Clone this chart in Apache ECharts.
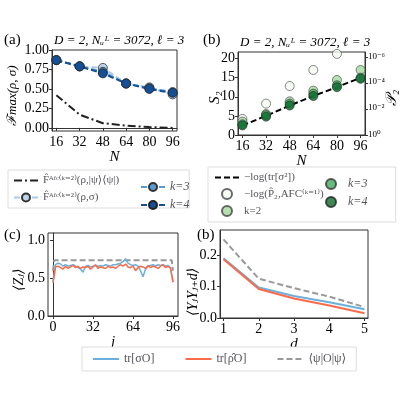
<!DOCTYPE html>
<html><head><meta charset="utf-8">
<script src="https://cdn.jsdelivr.net/npm/echarts@6/dist/echarts.min.js"></script>
<style>html,body{margin:0;background:#fff}#main{width:400px;height:400px}</style>
</head><body><div id="main"></div>
<script>
// panel (a)
var sizesN = [16, 32, 48, 64, 80, 96];
var fPure = [0.42, 0.17, 0.06, 0.03, 0.01, 0.00];
var fK2 = [0.87, 0.79, 0.77, 0.57, 0.52, 0.43];
var fK3 = [0.87, 0.79, 0.72, 0.57, 0.51, 0.46];
var fK4 = [0.87, 0.79, 0.70, 0.57, 0.50, 0.45];
var fTicks = [0, 0.25, 0.5, 0.75, 1];
// panel (b)
var s2Exact = [2.5, 5.0, 7.7, 10.2, 12.5, 15.0];
var s2K1 = [4.2, 8.2, 12.8, 17.0, 21.2];
var s2K2 = [3.5, 5.5, 8.8, 11.6, 14.4, 17.0];
var s2K3 = [2.8, 5.2, 8.2, 10.8, 13.0, 15.0];
var s2K4 = [2.5, 4.8, 7.7, 10.2, 12.5, 14.7];
var s2Ticks = [0, 5, 10, 15, 20];
var pTicks = [0, 2, 4, 6];
// panel (c)
var sites = [0,2,4,6,8,10,12,14,16,18,20,22,24,26,28,30,32,34,36,38,40,42,44,46,48,50,52,54,56,58,60,62,64,66,68,70,72,74,76,78,80,82,84,86,88,90,92,94,96];
var zSigma = [0.45,0.68,0.70,0.69,0.66,0.68,0.66,0.67,0.68,0.66,0.64,0.62,0.58,0.66,0.67,0.65,0.66,0.67,0.66,0.67,0.66,0.68,0.67,0.66,0.68,0.68,0.69,0.70,0.72,0.76,0.70,0.68,0.67,0.68,0.66,0.60,0.52,0.62,0.66,0.67,0.68,0.66,0.68,0.67,0.68,0.66,0.67,0.64,0.45];
var zRho = [0.44,0.65,0.66,0.64,0.62,0.66,0.63,0.65,0.67,0.64,0.66,0.63,0.65,0.64,0.66,0.62,0.65,0.68,0.63,0.65,0.64,0.63,0.66,0.64,0.65,0.63,0.66,0.68,0.66,0.69,0.65,0.64,0.66,0.60,0.64,0.66,0.65,0.63,0.67,0.64,0.66,0.65,0.63,0.66,0.68,0.64,0.66,0.63,0.45];
var zPsiX = [0, 1, 95, 96];
var zPsi = [0.6, 0.74, 0.74, 0.6];
var jTicks = [0, 32, 64, 96];
var zTicks = [0, 0.5, 1.0];
// panel (d)
var dists = [1, 2, 3, 4, 5];
var yySigma = [0.19, 0.097, 0.07, 0.05, 0.028];
var yyRho = [0.187, 0.092, 0.062, 0.04, 0.015];
var yyPsi = [0.25, 0.125, 0.095, 0.068, 0.035];
var yyTicks = [0, 0.1, 0.2];

function pairs(xs, ys) { return ys.map(function (v, i) { return [xs[i], v]; }); }
function lineOnly(n) { return {name: n, itemStyle: {opacity: 0}}; }

var F = 'Liberation Serif, DejaVu Serif, serif';
var lbl = {color: '#000', fontFamily: F, fontSize: 14};
var line = {show: true, lineStyle: {color: '#333'}};
function xAx(idx, min, max, ticks, name) {
  return {type: 'value', gridIndex: idx, min: min, max: max, name: name,
    nameLocation: 'middle', nameGap: 18, nameTextStyle: {fontFamily: F, fontStyle: 'italic', fontSize: 15, color: '#000'},
    axisLine: line, axisTick: {length: 3, customValues: ticks}, axisLabel: Object.assign({margin: 4, customValues: ticks}, lbl), splitLine: {show: false}};
}
function yAx(idx, min, max, ticks, fmt) {
  return {type: 'value', gridIndex: idx, min: min, max: max,
    axisLine: line, axisTick: {show: true, length: 3, customValues: ticks}, axisLabel: Object.assign({margin: 3, customValues: ticks, formatter: fmt}, lbl), splitLine: {show: false}};
}
var C2 = '#a9c9e6', C3 = '#5b9bd5', C4 = '#154f96';
var G2 = '#a1d99b', G3 = '#41ab5d', G4 = '#0b6b2d';
var BL = '#6bb0dc', RD = '#fb6a4a', GR = '#999';
var box = {show: true, borderColor: '#333', borderWidth: 1};

var chart = echarts.init(document.getElementById('main'));
chart.setOption({
  animation: false,
  grid: [
    Object.assign({left: 52, top: 50, width: 125, height: 81}, box),
    Object.assign({left: 238, top: 52, width: 127, height: 83}, box),
    Object.assign({left: 48, top: 233, width: 130, height: 83}, box),
    Object.assign({left: 220, top: 230, width: 148, height: 88}, box)
  ],
  xAxis: [
    xAx(0, 13, 99, sizesN, 'N'), xAx(1, 13, 99, sizesN, 'N'),
    xAx(2, -4, 100, jTicks, 'j'),
    xAx(3, 0.9, 5.1, dists, 'd')
  ],
  yAxis: [
    yAx(0, -0.04, 1.0, fTicks, function (v) { return v.toFixed(2); }),
    yAx(1, 0, 21.7, s2Ticks),
    Object.assign(yAx(1, 0, 6.4, pTicks), {position: 'right', axisLabel: {show: false}, axisTick: {show: true, inside: false, length: 3, customValues: pTicks}}),
    yAx(2, 0, 1.1, zTicks, function (v) { return v.toFixed(1); }),
    yAx(3, 0, 0.28, yyTicks, function (v) { return v.toFixed(1); })
  ],
  legend: [
    {left: 8, top: 170, orient: 'vertical', itemGap: 6, itemWidth: 24, itemHeight: 10, backgroundColor: '#fff', borderColor: '#ddd', borderWidth: 1, padding: [5, 70, 5, 5],
      textStyle: {fontFamily: F, fontSize: 11}, data: [lineOnly('F̂ᴬᶠᶜ⁽ᵏ⁼²⁾(ρ,|ψ⟩⟨ψ|)'), 'F̂ᴬᶠᶜ⁽ᵏ⁼²⁾(ρ,σ)']},
    {left: 135, top: 176, z: 5, orient: 'vertical', itemGap: 6, itemWidth: 24, itemHeight: 10, textStyle: {fontFamily: F, fontSize: 12, fontStyle: 'italic'}, data: ['k=3 ', 'k=4 ']},
    {left: 208, top: 167, orient: 'vertical', itemGap: 5, itemWidth: 24, itemHeight: 10, backgroundColor: '#fff', borderColor: '#ddd', borderWidth: 1, padding: [5, 72, 5, 6],
      textStyle: {fontFamily: F, fontSize: 11}, data: [lineOnly('−log(tr[σ²])'), '−log(P̂₂,AFC⁽ᵏ⁼¹⁾)', 'k=2']},
    {left: 320, top: 173, z: 5, orient: 'vertical', itemGap: 6, itemWidth: 24, itemHeight: 10, textStyle: {fontFamily: F, fontSize: 12, fontStyle: 'italic'}, data: ['k=3', 'k=4']},
    {left: 82, top: 347, orient: 'horizontal', itemGap: 30, itemWidth: 26, itemHeight: 8, backgroundColor: '#fff', borderColor: '#ddd', borderWidth: 1, padding: [6, 10],
      textStyle: {fontFamily: F, fontSize: 12}, data: [lineOnly('tr[σO]'), lineOnly('tr[ρ̂O]'), lineOnly('⟨ψ|O|ψ⟩')]}
  ],
  graphic: [
    {type: 'text', left: 4, top: 33, style: {text: '(a)', font: '15px ' + F}},
    {type: 'text', left: 54, top: 34, style: {text: 'D = 2, Nᵤᴸ = 3072, ℓ = 3', font: 'italic 13px ' + F}},
    {type: 'text', left: 203, top: 33, style: {text: '(b)', font: '15px ' + F}},
    {type: 'text', left: 240, top: 36, style: {text: 'D = 2, Nᵤᴸ = 3072, ℓ = 3', font: 'italic 13px ' + F}},
    {type: 'text', left: 4, top: 228, style: {text: '(c)', font: '15px ' + F}},
    {type: 'text', left: 197, top: 228, style: {text: '(b)', font: '15px ' + F}},
    {type: 'text', x: 6, y: 126, rotation: Math.PI / 2, style: {text: 'ℱmax(ρ, σ)', font: 'italic 13px ' + F}},
    {type: 'text', x: 208, y: 104, rotation: Math.PI / 2, style: {text: 'S₂', font: 'italic 15px ' + F}},
    {type: 'text', x: 368, y: 52, style: {text: '10⁻⁶', font: '9px ' + F}},
    {type: 'text', x: 368, y: 77, style: {text: '10⁻⁴', font: '9px ' + F}},
    {type: 'text', x: 368, y: 103, style: {text: '10⁻²', font: '9px ' + F}},
    {type: 'text', x: 368, y: 130, style: {text: '10⁰', font: '9px ' + F}},
    {type: 'text', x: 385, y: 106, rotation: Math.PI / 2, style: {text: '𝒫₂', font: 'italic 15px ' + F}},
    {type: 'text', x: 12, y: 291, rotation: Math.PI / 2, style: {text: '⟨Zⱼ⟩', font: 'italic 14px ' + F}},
    {type: 'text', x: 186, y: 316, rotation: Math.PI / 2, style: {text: '⟨YⱼYⱼ₊d⟩', font: 'italic 14px ' + F}}
  ],
  series: [
    {name: 'F̂ᴬᶠᶜ⁽ᵏ⁼²⁾(ρ,|ψ⟩⟨ψ|)', type: 'line', xAxisIndex: 0, yAxisIndex: 0, data: pairs(sizesN, fPure), symbol: 'none', lineStyle: {color: '#222', width: 2, type: [8, 3, 2, 3]}, itemStyle: {color: '#222'}},
    {name: 'F̂ᴬᶠᶜ⁽ᵏ⁼²⁾(ρ,σ)', type: 'line', xAxisIndex: 0, yAxisIndex: 0, data: pairs(sizesN, fK2), symbol: 'circle', symbolSize: 9, lineStyle: {color: C2, width: 2, type: [6, 3]}, itemStyle: {color: '#bcd3ea', borderColor: '#333', borderWidth: 0.8}},
    {name: 'k=3 ', type: 'line', xAxisIndex: 0, yAxisIndex: 0, data: pairs(sizesN, fK3), symbol: 'circle', symbolSize: 9, lineStyle: {color: C3, width: 2, type: [6, 3]}, itemStyle: {color: C3, borderColor: '#333', borderWidth: 0.8}},
    {name: 'k=4 ', type: 'line', xAxisIndex: 0, yAxisIndex: 0, data: pairs(sizesN, fK4), symbol: 'circle', symbolSize: 9, lineStyle: {color: C4, width: 2, type: [6, 3]}, itemStyle: {color: C4, borderColor: '#222', borderWidth: 0.8}},
    {name: '−log(tr[σ²])', type: 'line', xAxisIndex: 1, yAxisIndex: 1, data: pairs(sizesN, s2Exact), symbol: 'none', lineStyle: {color: '#000', width: 2, type: [6, 3]}, itemStyle: {color: '#000'}, z: 1},
    {name: '−log(P̂₂,AFC⁽ᵏ⁼¹⁾)', type: 'scatter', xAxisIndex: 1, yAxisIndex: 1, data: pairs(sizesN, s2K1), symbolSize: 9, itemStyle: {color: '#f4fbf0', borderColor: '#444', borderWidth: 0.8}},
    {name: 'k=2', type: 'scatter', xAxisIndex: 1, yAxisIndex: 1, data: pairs(sizesN, s2K2), symbolSize: 9, itemStyle: {color: G2, borderColor: '#444', borderWidth: 0.8}},
    {name: 'k=3', type: 'scatter', xAxisIndex: 1, yAxisIndex: 1, data: pairs(sizesN, s2K3), symbolSize: 9, itemStyle: {color: G3, borderColor: '#333', borderWidth: 0.8}},
    {name: 'k=4', type: 'scatter', xAxisIndex: 1, yAxisIndex: 1, data: pairs(sizesN, s2K4), symbolSize: 9, itemStyle: {color: G4, borderColor: '#222', borderWidth: 0.8}},
    {name: '⟨ψ|O|ψ⟩', type: 'line', xAxisIndex: 2, yAxisIndex: 3, data: pairs(zPsiX, zPsi), symbol: 'none', lineStyle: {color: GR, width: 2, type: [6, 3]}, itemStyle: {color: GR}},
    {name: 'tr[σO]', type: 'line', xAxisIndex: 2, yAxisIndex: 3, data: pairs(sites, zSigma), symbol: 'none', lineStyle: {color: BL, width: 1.5}, itemStyle: {color: BL}},
    {name: 'tr[ρ̂O]', type: 'line', xAxisIndex: 2, yAxisIndex: 3, data: pairs(sites, zRho), symbol: 'none', lineStyle: {color: RD, width: 1.5}, itemStyle: {color: RD}},
    {name: '⟨ψ|O|ψ⟩', type: 'line', xAxisIndex: 3, yAxisIndex: 4, data: pairs(dists, yyPsi), symbol: 'none', lineStyle: {color: GR, width: 2, type: [6, 3]}, itemStyle: {color: GR}},
    {name: 'tr[σO]', type: 'line', xAxisIndex: 3, yAxisIndex: 4, data: pairs(dists, yySigma), symbol: 'none', lineStyle: {color: BL, width: 2}, itemStyle: {color: BL}},
    {name: 'tr[ρ̂O]', type: 'line', xAxisIndex: 3, yAxisIndex: 4, data: pairs(dists, yyRho), symbol: 'none', lineStyle: {color: RD, width: 2}, itemStyle: {color: RD}}
  ]
});
</script></body></html>
